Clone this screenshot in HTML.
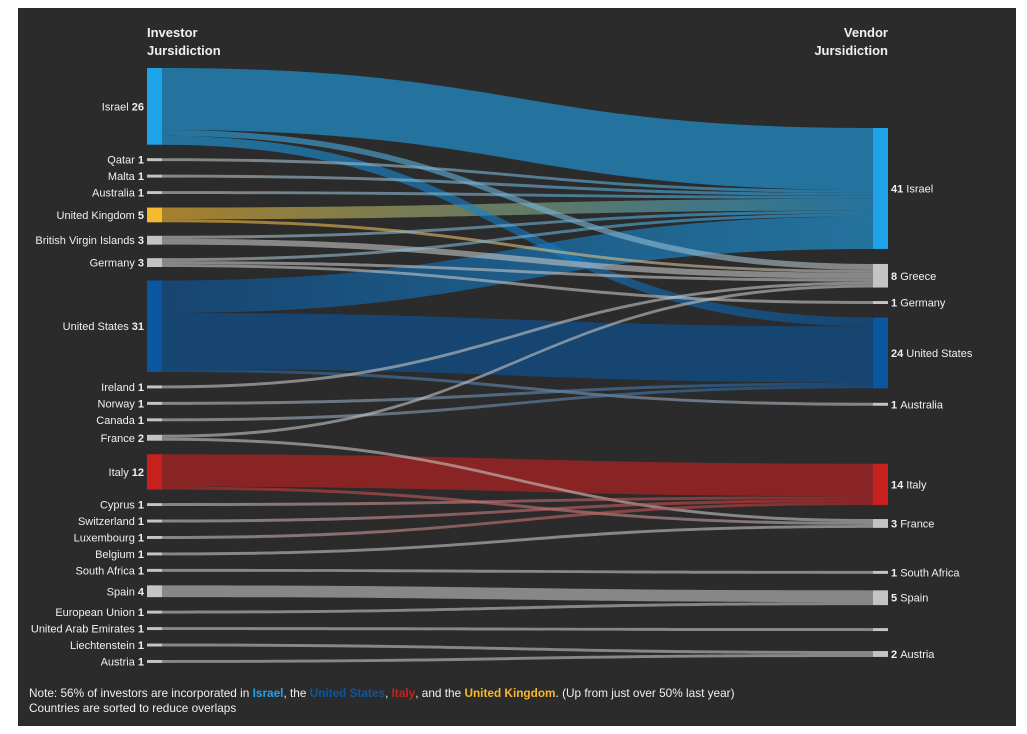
<!DOCTYPE html>
<html><head><meta charset="utf-8">
<style>
html,body{margin:0;padding:0;background:#fff;width:1027px;height:734px;overflow:hidden;font-family:"Liberation Sans",sans-serif}
#panel{position:absolute;left:18px;top:8px;width:998px;height:718px;background:#2b2b2b}
svg{position:absolute;left:0;top:0}
</style></head><body>
<div id="panel"></div>
<svg id="chart" width="1027" height="734"></svg>
<script>
const leftNames=["Israel","Qatar","Malta","Australia","United Kingdom","British Virgin Islands","Germany","United States","Ireland","Norway","Canada","France","Italy","Cyprus","Switzerland","Luxembourg","Belgium","South Africa","Spain","European Union","United Arab Emirates","Liechtenstein","Austria"];
const rightNames=["Israel","Greece","Germany","United States","Australia","Italy","France","South Africa","Spain","","Austria"];
const linkSource=["Israel","Israel","Israel","Qatar","Malta","Australia","United Kingdom","United Kingdom","British Virgin Islands","British Virgin Islands","Germany","Germany","Germany","United States","United States","United States","Ireland","Norway","Canada","France","France","Italy","Italy","Cyprus","Switzerland","Luxembourg","Belgium","South Africa","Spain","European Union","United Arab Emirates","Liechtenstein","Austria"];
const linkTarget=["Israel","Greece","United States","Israel","Israel","Israel","Israel","Greece","Israel","Greece","Israel","Greece","Germany","Israel","United States","Australia","Greece","United States","United States","Greece","France","Italy","France","Italy","Italy","Italy","France","South Africa","Spain","Spain","","Austria","Austria"];
const linkValue=[21,2,3,1,1,1,4,1,1,2,1,1,1,11,19,1,1,1,1,1,1,11,1,1,1,1,1,1,4,1,1,1,1];
// layout constants (not data)
const K=2.95, LX=147, RX=873, NW=15, LTOP=68, LGAP=13.5, RTOP=128;
const rightGaps=[15,13.5,13.5,14.5,58,14,43,16.5,23,20];
const colorOf={"Israel":"#1ea3ea","United States":"#0a56a0","Italy":"#c8201f","United Kingdom":"#f7b92e"};
const col=n=>colorOf[n]||"#c4c4c4";
const svg=document.getElementById('chart');
const NS="http://www.w3.org/2000/svg";
function mk(t,a){const e=document.createElementNS(NS,t);for(const k in a)e.setAttribute(k,a[k]);return e;}
const lv=leftNames.map(n=>linkValue.reduce((s,v,i)=>s+(linkSource[i]===n?v:0),0));
const rv=rightNames.map(n=>linkValue.reduce((s,v,i)=>s+(linkTarget[i]===n?v:0),0));
const ly=[];let y=LTOP;lv.forEach((v,i)=>{ly.push(y);y+=v*K+LGAP;});
const ry=[];y=RTOP;rv.forEach((v,i)=>{ry.push(y);y+=v*K+(rightGaps[i]||0);});
const defs=mk('defs',{});svg.appendChild(defs);
const gLinks=mk('g',{});svg.appendChild(gLinks);
const idx=linkValue.map((_,i)=>i);
const li=n=>leftNames.indexOf(n), ri=n=>rightNames.indexOf(n);
const sy0={},ty0={};
leftNames.forEach((n,k)=>{let o=ly[k];idx.filter(i=>linkSource[i]===n).sort((a,b)=>ri(linkTarget[a])-ri(linkTarget[b])).forEach(i=>{sy0[i]=o;o+=linkValue[i]*K;});});
rightNames.forEach((n,k)=>{let o=ry[k];idx.filter(i=>linkTarget[i]===n).sort((a,b)=>li(linkSource[a])-li(linkSource[b])).forEach(i=>{ty0[i]=o;o+=linkValue[i]*K;});});
const x0=LX+NW,x1=RX,mx=(x0+x1)/2;
idx.slice().sort((a,b)=>linkValue[b]-linkValue[a]).forEach(i=>{
  const h=linkValue[i]*K,a=sy0[i],b=ty0[i];
  const g=mk('linearGradient',{id:'g'+i,gradientUnits:'userSpaceOnUse',x1:x0,x2:x1,y1:0,y2:0});
  g.appendChild(mk('stop',{offset:'0','stop-color':col(linkSource[i])}));
  g.appendChild(mk('stop',{offset:'1','stop-color':col(linkTarget[i])}));
  defs.appendChild(g);
  const d=`M${x0},${a}C${mx},${a} ${mx},${b} ${x1},${b}L${x1},${b+h}C${mx},${b+h} ${mx},${a+h} ${x0},${a+h}Z`;
  const p=mk('path',{d:d,fill:`url(#g${i})`,'fill-opacity':0.6});
  
  
  gLinks.appendChild(p);
});
function label(x,yc,anchor,parts,name){
  const t=mk('text',{x:x,y:yc+4,'text-anchor':anchor,'font-size':'11',fill:'#f0f0f0','font-family':'Liberation Sans, sans-serif'});
  parts.forEach(([s,b])=>{const sp=mk('tspan',{});if(b)sp.setAttribute('font-weight','bold');sp.textContent=s;t.appendChild(sp);});
  
  
  svg.appendChild(t);
}
leftNames.forEach((n,k)=>{
  const r=mk('rect',{x:LX,y:ly[k],width:NW,height:lv[k]*K,fill:col(n)});
  
  
  svg.appendChild(r);
  label(LX-3,ly[k]+lv[k]*K/2,'end',[[n+' ',false],[String(lv[k]),true]],'investor-label-'+n.toLowerCase().replace(/ /g,'-'));
});
rightNames.forEach((n,k)=>{
  const r=mk('rect',{x:RX,y:ry[k],width:NW,height:rv[k]*K,fill:col(n)});
  
  
  svg.appendChild(r);
  if(n)label(RX+NW+3,ry[k]+rv[k]*K/2,'start',[[String(rv[k])+' ',true],[n,false]],'vendor-label-'+n.toLowerCase().replace(/ /g,'-'));
});
</script>
<svg width="1027" height="734" style="pointer-events:none">
<g font-family="Liberation Sans, sans-serif" font-size="13" font-weight="bold" fill="#f0f0f0">
<text x="147" y="37">Investor</text>
<text x="147" y="55">Jursidiction</text>
<text x="888" y="37" text-anchor="end">Vendor</text>
<text x="888" y="55" text-anchor="end">Jursidiction</text>
</g>
<g font-family="Liberation Sans, sans-serif" font-size="11.8" fill="#f0f0f0">
<text x="29" y="697">Note: 56% of investors are incorporated in <tspan font-weight="bold" fill="#1ea3ea">Israel</tspan>, the <tspan font-weight="bold" fill="#0a56a0">United States</tspan>, <tspan font-weight="bold" fill="#c8201f">Italy</tspan>, and the <tspan font-weight="bold" fill="#f7b92e">United Kingdom</tspan>. (Up from just over 50% last year)</text>
<text x="29" y="712">Countries are sorted to reduce overlaps</text>
</g>
</svg>
</body></html>
